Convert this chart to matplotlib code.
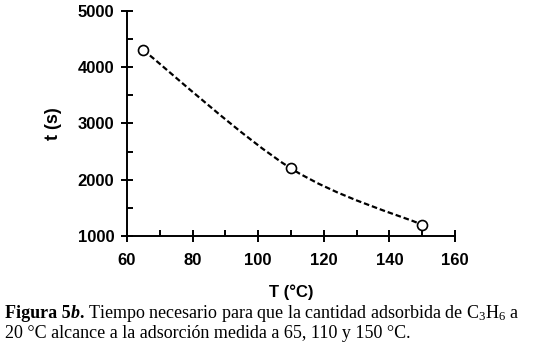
"""Tiempo necesario para igualar la adsorción de C3H6 (Figura 5b)."""

import matplotlib
matplotlib.use("Agg")
import matplotlib.pyplot as plt
import numpy as np
from matplotlib.path import Path
from matplotlib.patches import PathPatch
from matplotlib.ticker import MultipleLocator

# datos
temp_c = [65, 110, 150]
tiempo_s = [4300, 2200, 1200]

x_ticks = [60, 80, 100, 120, 140, 160]
y_ticks = [1000, 2000, 3000, 4000, 5000]

plt.rcParams["font.family"] = ["Liberation Sans", "DejaVu Sans"]
plt.rcParams["mathtext.default"] = "regular"

W, H = 534, 346
fig = plt.figure(figsize=(W / 100, H / 100), dpi=100)
ax = fig.add_axes([127 / W, 1 - 236 / H, (455 - 127) / W, (236 - 10.7) / H])

ax.set_xlim(60, 160)
ax.set_ylim(1000, 5000)
ax.set_xticks(x_ticks)
ax.set_yticks(y_ticks)
ax.xaxis.set_minor_locator(MultipleLocator(10))
ax.yaxis.set_minor_locator(MultipleLocator(500))

for s in ("top", "right"):
    ax.spines[s].set_visible(False)
for s in ("left", "bottom"):
    ax.spines[s].set_linewidth(1.4)

ax.tick_params(which="major", direction="inout", length=8, width=1.4,
               labelsize=12, pad=5)
ax.tick_params(which="minor", direction="in", length=4, width=1.4)
ax.tick_params(axis="x", pad=8)
for lab in ax.get_xticklabels() + ax.get_yticklabels():
    lab.set_fontweight("bold")

# curva suavizada (Catmull-Rom -> Bezier, como el suavizado de Excel)
pts = np.column_stack([temp_c, tiempo_s]).astype(float)
ext = np.vstack([pts[0], pts, pts[-1]])
verts = [tuple(pts[0])]
codes = [Path.MOVETO]
for i in range(1, len(ext) - 2):
    p0, p1, p2, p3 = ext[i - 1], ext[i], ext[i + 1], ext[i + 2]
    c1 = p1 + (p2 - p0) / 6
    c2 = p2 - (p3 - p1) / 6
    verts += [tuple(c1), tuple(c2), tuple(p2)]
    codes += [Path.CURVE4] * 3
curve = PathPatch(Path(verts, codes), facecolor="none", edgecolor="black",
                  lw=1.6, linestyle=(0, (2.5, 1.3)), clip_on=False)
ax.add_patch(curve)

ax.plot(temp_c, tiempo_s, linestyle="none", marker="o", markersize=7.2,
        markerfacecolor="white", markeredgecolor="black", markeredgewidth=1.2,
        clip_on=False, zorder=3)

fig.text(291 / W, 1 - 292 / H, "T (°C)", ha="center", va="center",
         fontsize=12, fontweight="bold")
fig.text(53 / W, 1 - 124 / H, "t (s)", ha="center", va="center",
         rotation=90, fontsize=13, fontweight="bold")

# pie de figura, en trozos con estilos distintos
serif = ["Liberation Serif", "DejaVu Serif"]
fig.canvas.draw()
renderer = fig.canvas.get_renderer()


def line(pieces, x0, y_base):
    x = x0
    for txt, kw in pieces:
        t = fig.text(x / W, 1 - y_base / H, txt, ha="left", va="baseline",
                     family=serif, fontsize=13, **kw)
        x += t.get_window_extent(renderer).width


line([("Figura 5", {"fontweight": "bold"}),
      ("b", {"fontweight": "bold", "fontstyle": "italic"}),
      (".", {"fontweight": "bold"}),
      (" Tiempo necesario para que la cantidad adsorbida de C$_3$H$_6$ a", {})],
     5, 318)
line([("20 °C alcance a la adsorción medida a 65, 110 y 150 °C.", {})], 5, 338)

fig.savefig("out.png", dpi=100)
